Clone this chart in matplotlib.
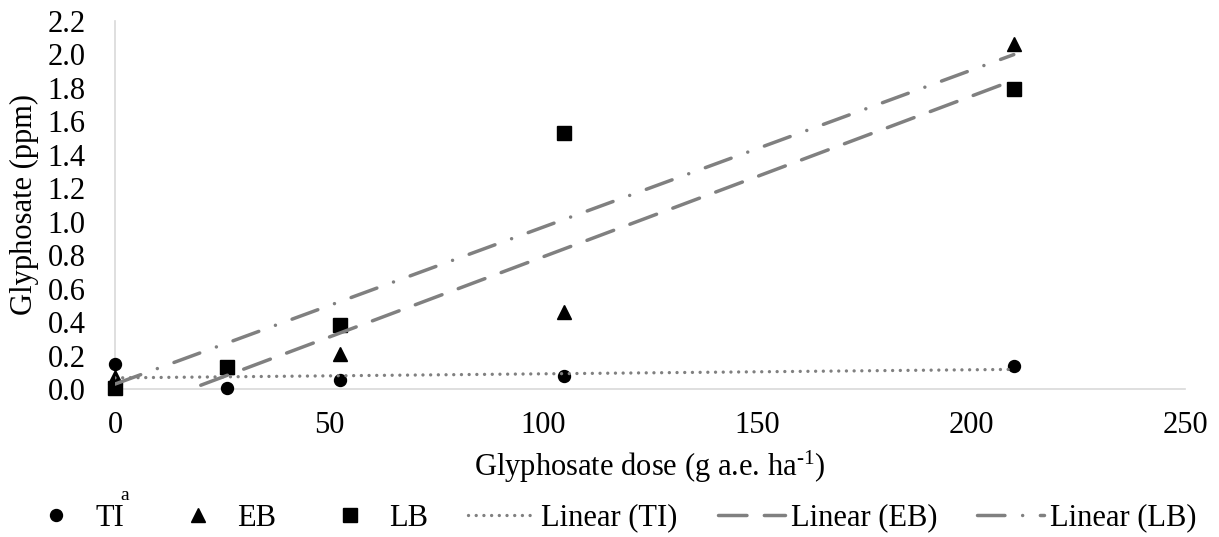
import numpy as np
import matplotlib
matplotlib.use("Agg")
import matplotlib.pyplot as plt
from matplotlib.lines import Line2D

plt.rcParams["font.family"] = ["Liberation Serif", "DejaVu Serif"]
plt.rcParams["mathtext.fontset"] = "custom"
plt.rcParams["mathtext.rm"] = "Liberation Serif"

# Glyphosate dose (g a.e. ha-1) and residue (ppm) per tissue stage
doses = [0, 26.25, 52.5, 105, 210]
ti_vals = [0.15, 0.008, 0.055, 0.075, 0.14]
eb_vals = [0.07, 0.13, 0.21, 0.46, 2.06]
lb_vals = [0.005, 0.13, 0.38, 1.53, 1.795]

series_names = ["TI", "EB", "LB"]
x_ticks = [0, 50, 100, 150, 200, 250]
y_ticks = [0.0, 0.2, 0.4, 0.6, 0.8, 1.0, 1.2, 1.4, 1.6, 1.8, 2.0, 2.2]

FS = 22
GRAY = "#808080"
SPINE = "#d9d9d9"

fig = plt.figure(figsize=(12.19, 5.37), dpi=100)
ax = fig.add_axes([0.0943, 0.2756, 0.8778, 0.6853])

x = np.array(doses, dtype=float)
markers = {"TI": ("o", 8.6), "EB": ("^", 10.0), "LB": ("s", 10.0)}
values = {"TI": ti_vals, "EB": eb_vals, "LB": lb_vals}

for name in series_names:
    m, ms = markers[name]
    ax.plot(x, values[name], linestyle="none", marker=m, markersize=ms,
            color="black", zorder=3, clip_on=False)

# Least-squares trendlines over the dose range
styles = {
    "TI": dict(lw=2.4, ls=(0, (0.01, 2.3))),
    "EB": dict(lw=2.5, ls=(0, (8.2, 5.0))),
    "LB": dict(lw=2.5, ls=(0, (7.9, 5.1, 0.01, 5.1))),
}
xf = np.array([0.0, 210.0])
for name in series_names:
    slope, intercept = np.polyfit(x, values[name], 1)
    st = styles[name]
    ax.plot(xf, slope * xf + intercept, color=GRAY, lw=st["lw"],
            linestyle=st["ls"], dash_capstyle="round", zorder=4)

ax.set_xlim(0, 250)
ax.set_ylim(0, 2.2)
ax.set_xticks(x_ticks)
ax.set_yticks(y_ticks)
ax.set_yticklabels([f"{v:.1f}" for v in y_ticks])
ax.tick_params(axis="both", length=0, labelsize=FS)
ax.tick_params(axis="y", pad=21)
ax.tick_params(axis="x", pad=16)

for side in ["top", "right"]:
    ax.spines[side].set_visible(False)
for side in ["left", "bottom"]:
    ax.spines[side].set_color(SPINE)
    ax.spines[side].set_linewidth(1.2)

ax.set_ylabel("Glyphosate (ppm)", fontsize=FS, va="center")
ax.yaxis.set_label_coords(-90 / 1070, 0.5)
ax.set_xlabel(r"Glyphosate dose (g a.e. ha$\mathregular{^{\text{-1}}}$)",
              fontsize=FS, va="top")
ax.xaxis.set_label_coords(0.5, -60 / 368)

handles = [
    Line2D([], [], ls="none", marker="o", ms=8.6, color="black"),
    Line2D([], [], ls="none", marker="^", ms=10, color="black"),
    Line2D([], [], ls="none", marker="s", ms=10, color="black"),
    Line2D([], [], color=GRAY, lw=styles["TI"]["lw"], ls=styles["TI"]["ls"],
           dash_capstyle="round"),
    Line2D([], [], color=GRAY, lw=styles["EB"]["lw"], ls=styles["EB"]["ls"],
           dash_capstyle="round"),
    Line2D([], [], color=GRAY, lw=styles["LB"]["lw"], ls=styles["LB"]["ls"],
           dash_capstyle="round"),
]
labels = series_names + [f"Linear ({n})" for n in series_names]
fig.legend(handles, labels, loc="center", bbox_to_anchor=(0.5, 1 - 518 / 537),
           ncol=6, frameon=False, fontsize=FS, handlelength=2.2,
           handletextpad=0.2, columnspacing=1.3, borderaxespad=0)

fig.text(125 / 1219, 1 - 495 / 537, "a", fontsize=14, ha="center", va="center")

fig.savefig("out.png", dpi=100)
